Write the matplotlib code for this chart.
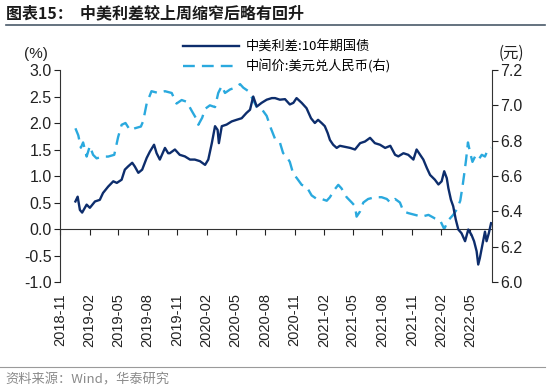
import matplotlib
matplotlib.use('Agg')
import matplotlib.pyplot as plt
import pandas as pd

plt.rcParams['font.family'] = ['Liberation Sans', 'Noto Sans CJK SC', 'DejaVu Sans']
cjk = ['Noto Sans CJK SC', 'DejaVu Sans']

# 中美利差:10年期国债 (%)
spread_dates = [
    '2018-12-19', '2018-12-26', '2019-01-02', '2019-01-09', '2019-01-23', '2019-02-02',
    '2019-02-18', '2019-03-05', '2019-03-15', '2019-03-31', '2019-04-16', '2019-04-27',
    '2019-05-12', '2019-05-22', '2019-06-01', '2019-06-14', '2019-06-22', '2019-07-03',
    '2019-07-15', '2019-07-29', '2019-08-08', '2019-08-21', '2019-08-29', '2019-09-08',
    '2019-09-24', '2019-10-04', '2019-10-09', '2019-10-25', '2019-11-09', '2019-11-25',
    '2019-12-11', '2019-12-26', '2020-01-11', '2020-01-27', '2020-02-06', '2020-02-17',
    '2020-02-27', '2020-03-06', '2020-03-10', '2020-03-19', '2020-04-03', '2020-04-19',
    '2020-05-04', '2020-05-20', '2020-06-04', '2020-06-15', '2020-06-25', '2020-07-06',
    '2020-07-21', '2020-08-06', '2020-08-22', '2020-09-01', '2020-09-16', '2020-10-02',
    '2020-10-17', '2020-10-28', '2020-11-07', '2020-11-23', '2020-12-08', '2020-12-22',
    '2021-01-03', '2021-01-13', '2021-01-24', '2021-02-03', '2021-02-12', '2021-02-19',
    '2021-03-01', '2021-03-12', '2021-03-22', '2021-04-07', '2021-04-23', '2021-05-08',
    '2021-05-24', '2021-06-08', '2021-06-24', '2021-07-09', '2021-07-25', '2021-08-10',
    '2021-08-26', '2021-09-10', '2021-09-20', '2021-10-06', '2021-10-21', '2021-11-06',
    '2021-11-16', '2021-11-27', '2021-12-07', '2021-12-18', '2021-12-28', '2022-01-12',
    '2022-01-23', '2022-02-02', '2022-02-10', '2022-02-18', '2022-02-23', '2022-03-03',
    '2022-03-10', '2022-03-18', '2022-03-26', '2022-04-05', '2022-04-16', '2022-04-26',
    '2022-05-06', '2022-05-14', '2022-05-22', '2022-05-27', '2022-06-01', '2022-06-08',
    '2022-06-17', '2022-06-22', '2022-06-29', '2022-07-06',
]
spread = [
    0.52, 0.61, 0.36, 0.31, 0.46, 0.40,
    0.52, 0.55, 0.68, 0.80, 0.90, 0.87,
    0.93, 1.12, 1.18, 1.25, 1.18, 1.06,
    1.12, 1.34, 1.46, 1.59, 1.43, 1.31,
    1.53, 1.43, 1.43, 1.50, 1.40, 1.37,
    1.31, 1.31, 1.28, 1.21, 1.31, 1.62,
    1.94, 1.87, 1.62, 1.94, 1.97, 2.03,
    2.06, 2.09, 2.19, 2.25, 2.50, 2.31,
    2.38, 2.44, 2.47, 2.47, 2.44, 2.45,
    2.35, 2.38, 2.47, 2.38, 2.28, 2.09,
    2.00, 2.06, 2.00, 1.94, 1.81, 1.68,
    1.59, 1.53, 1.57, 1.55, 1.53, 1.50,
    1.62, 1.65, 1.72, 1.62, 1.59, 1.53,
    1.57, 1.40, 1.37, 1.43, 1.40, 1.31,
    1.50, 1.40, 1.31, 1.15, 1.02, 0.93,
    0.84, 0.90, 1.09, 0.96, 0.77, 0.55,
    0.43, 0.18, -0.01, -0.08, -0.23, -0.01,
    -0.11, -0.23, -0.42, -0.67, -0.55, -0.33,
    -0.05, -0.23, -0.08, 0.11,
]

# 中间价:美元兑人民币 (元, 右轴)
fx_dates = [
    '2018-12-19', '2018-12-28', '2019-01-05', '2019-01-12', '2019-01-23', '2019-02-02',
    '2019-02-12', '2019-02-23', '2019-03-15', '2019-03-31', '2019-04-19', '2019-05-01',
    '2019-05-12', '2019-05-24', '2019-06-07', '2019-06-22', '2019-07-11', '2019-07-18',
    '2019-07-29', '2019-08-13', '2019-09-03', '2019-09-24', '2019-10-15', '2019-10-30',
    '2019-11-15', '2019-12-01', '2019-12-16', '2020-01-01', '2020-01-06', '2020-01-18',
    '2020-01-27', '2020-02-11', '2020-02-27', '2020-03-08', '2020-03-19', '2020-03-29',
    '2020-04-14', '2020-04-29', '2020-05-15', '2020-05-25', '2020-06-10', '2020-06-22',
    '2020-07-06', '2020-07-21', '2020-08-06', '2020-08-19', '2020-09-01', '2020-09-16',
    '2020-09-26', '2020-10-07', '2020-10-17', '2020-10-28', '2020-11-07', '2020-11-23',
    '2020-12-08', '2020-12-24', '2021-01-09', '2021-01-24', '2021-02-09', '2021-02-19',
    '2021-03-04', '2021-03-17', '2021-03-27', '2021-04-12', '2021-04-28', '2021-05-08',
    '2021-05-13', '2021-05-24', '2021-06-03', '2021-06-18', '2021-07-09', '2021-07-30',
    '2021-08-15', '2021-08-26', '2021-09-10', '2021-09-25', '2021-10-06', '2021-10-21',
    '2021-11-11', '2021-12-02', '2021-12-23', '2022-01-12', '2022-01-28', '2022-02-10',
    '2022-02-23', '2022-03-10', '2022-03-21', '2022-04-01', '2022-04-08', '2022-04-14',
    '2022-04-19', '2022-04-25', '2022-05-02', '2022-05-09', '2022-05-17', '2022-05-27',
    '2022-06-07', '2022-06-17', '2022-06-26', '2022-07-06',
]
fx = [
    6.87, 6.83, 6.76, 6.79, 6.71, 6.77,
    6.72, 6.70, 6.71, 6.71, 6.72, 6.82,
    6.89, 6.90, 6.86, 6.87, 6.88, 6.91,
    7.01, 7.08, 7.07, 7.08, 7.07, 7.01,
    7.03, 7.02, 6.97, 6.92, 6.89, 6.93,
    6.98, 7.00, 6.99, 7.07, 7.11, 7.07,
    7.09, 7.10, 7.12, 7.10, 7.08, 7.04,
    6.99, 6.98, 6.94, 6.87, 6.81, 6.79,
    6.73, 6.71, 6.68, 6.61, 6.59, 6.55,
    6.54, 6.49, 6.47, 6.47, 6.46, 6.48,
    6.52, 6.55, 6.53, 6.48, 6.45, 6.43,
    6.37, 6.40, 6.45, 6.47, 6.48, 6.48,
    6.47, 6.45, 6.47, 6.45, 6.40, 6.39,
    6.38, 6.37, 6.38, 6.36, 6.35, 6.30,
    6.35, 6.38, 6.41, 6.46, 6.54, 6.62,
    6.69, 6.79, 6.73, 6.68, 6.71, 6.69,
    6.72, 6.71, 6.75, 6.76,
]

tick_labels = ['2018-11', '2019-02', '2019-05', '2019-08', '2019-11', '2020-02', '2020-05',
               '2020-08', '2020-11', '2021-02', '2021-05', '2021-08', '2021-11', '2022-02', '2022-05']

navy = '#0d2d6c'
sky = '#2aa9de'

fig = plt.figure(figsize=(5.5, 3.9), dpi=100)
ax = fig.add_axes([0.1091, 0.2769, 0.7855, 0.5436])
ax2 = ax.twinx()

l1, = ax.plot(pd.to_datetime(spread_dates), spread, color=navy, lw=1.7, zorder=3)
l2, = ax2.plot(pd.to_datetime(fx_dates), fx, color=sky, lw=1.7, dashes=(5, 3))
ax.set_zorder(ax2.get_zorder() + 1)
ax.patch.set_visible(False)

# 先设置坐标轴位置（会重置刻度），再设置刻度
for a in (ax, ax2):
    a.spines['top'].set_visible(False)
    for s in a.spines.values():
        s.set_color('#333333')
ax.spines['right'].set_visible(False)
ax2.spines['left'].set_visible(False)
ax2.spines['bottom'].set_visible(False)
ax.spines['bottom'].set_position(('data', 0))

ax.set_ylim(-1.0, 3.0)
ax.set_yticks([-1.0, -0.5, 0.0, 0.5, 1.0, 1.5, 2.0, 2.5, 3.0])
ax.yaxis.set_major_formatter(matplotlib.ticker.FormatStrFormatter('%.1f'))
ax2.set_ylim(6.0, 7.2)
ax2.set_yticks([6.0, 6.2, 6.4, 6.6, 6.8, 7.0, 7.2])
ax2.yaxis.set_major_formatter(matplotlib.ticker.FormatStrFormatter('%.1f'))

ax.set_xlim(pd.Timestamp('2018-11-01'), pd.Timestamp('2022-07-09'))
ax.set_xticks(pd.to_datetime([t + '-01' for t in tick_labels]))
ax.set_xticklabels(tick_labels, rotation=90, va='top', ha='center')

ax.tick_params(axis='y', direction='out', length=4, labelsize=11.5, colors='#222222', pad=2)
ax2.tick_params(axis='y', direction='out', length=4, labelsize=11.5, colors='#222222', pad=2)
ax.tick_params(axis='x', direction='out', length=4, labelsize=10.5, colors='#222222', pad=42)

fig.text(0.065, 0.862, '(%)', fontsize=11, ha='center', va='center', color='#222222')
fig.text(0.93, 0.862, '(元)', fontsize=11, ha='center', va='center', color='#222222', family=cjk)

fig.legend([l1, l2], ['中美利差:10年期国债', '中间价:美元兑人民币(右)'],
           loc='upper left', bbox_to_anchor=(0.332, 0.895), frameon=False,
           prop={'family': cjk, 'size': 9.5}, handlelength=4.3, handletextpad=0.5,
           labelspacing=0.45, borderpad=0, borderaxespad=0)

# 标题与来源
fig.text(0.01, 0.965, '图表15：  中美利差较上周缩窄后略有回升', fontsize=11.5,
         fontweight='bold', family=cjk, ha='left', va='center', color='#1a1a1a')
fig.add_artist(plt.Line2D([0.01, 0.99], [0.935, 0.935], color='#4a5a6a', lw=1.2))
fig.add_artist(plt.Line2D([0.0, 0.99], [0.06, 0.06], color='#9a9a9a', lw=0.8))
fig.text(0.01, 0.025, '资料来源：Wind，华泰研究', fontsize=9.5, family=cjk,
         ha='left', va='center', color='#8a8a8a')

fig.savefig('out.png', dpi=100)
